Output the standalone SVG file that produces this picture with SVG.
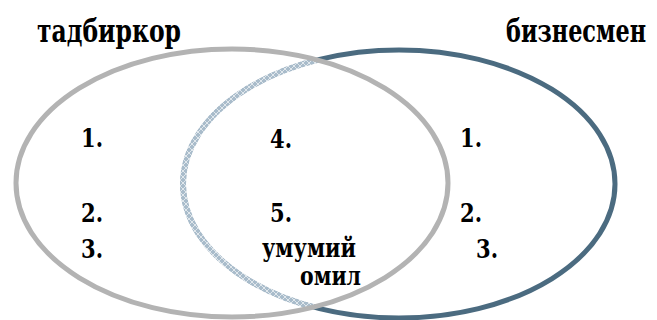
<svg xmlns="http://www.w3.org/2000/svg" width="657" height="320" viewBox="0 0 657 320">
<style>
.t{fill:#000;}
.h{font-size:32px;}
.n{font-size:26px;}
.w{font-size:26px;}
</style>
<defs>
<pattern id="hatch" width="6" height="6" patternUnits="userSpaceOnUse">
<rect width="6" height="6" fill="#a9bccb"/>
<path d="M0 0L6 6M6 0L0 6" stroke="#ffffff" stroke-width="0.8" opacity="0.8"/>
</pattern>
<clipPath id="inLeft"><ellipse cx="232" cy="183" rx="216" ry="134"/></clipPath>
</defs>
<g id="set-right">
<ellipse cx="399" cy="184" rx="216" ry="134" fill="none" stroke="#4b6b80" stroke-width="5"/>
<ellipse cx="399" cy="184" rx="216" ry="134" fill="none" stroke="url(#hatch)" stroke-width="6" clip-path="url(#inLeft)"/>
</g>
<g id="set-left">
<ellipse cx="232" cy="183" rx="216" ry="134" fill="none" stroke="#b3b3b3" stroke-width="5"/>
</g>
<g font-family="DejaVu Serif, Liberation Serif, serif" font-weight="bold">
<g id="labels">
<text class="t h" x="37" y="42" textLength="144" lengthAdjust="spacingAndGlyphs">тадбиркор</text>
<text class="t h" x="506" y="42" textLength="140" lengthAdjust="spacingAndGlyphs">бизнесмен</text>
</g>
<g id="left-items">
<text class="t n" x="81" y="147" textLength="22" lengthAdjust="spacingAndGlyphs">1.</text>
<text class="t n" x="81" y="222" textLength="22" lengthAdjust="spacingAndGlyphs">2.</text>
<text class="t n" x="81" y="258" textLength="22" lengthAdjust="spacingAndGlyphs">3.</text>
</g>
<g id="common-items">
<text class="t n" x="270" y="148" textLength="22" lengthAdjust="spacingAndGlyphs">4.</text>
<text class="t n" x="270" y="222" textLength="22" lengthAdjust="spacingAndGlyphs">5.</text>
<text class="t w" x="262" y="257" textLength="94" lengthAdjust="spacingAndGlyphs">умумий</text>
<text class="t w" x="300" y="285" textLength="61" lengthAdjust="spacingAndGlyphs">омил</text>
</g>
<g id="right-items">
<text class="t n" x="460" y="147" textLength="22" lengthAdjust="spacingAndGlyphs">1.</text>
<text class="t n" x="460" y="222" textLength="22" lengthAdjust="spacingAndGlyphs">2.</text>
<text class="t n" x="476" y="258" textLength="22" lengthAdjust="spacingAndGlyphs">3.</text>
</g>
</g>
</svg>
